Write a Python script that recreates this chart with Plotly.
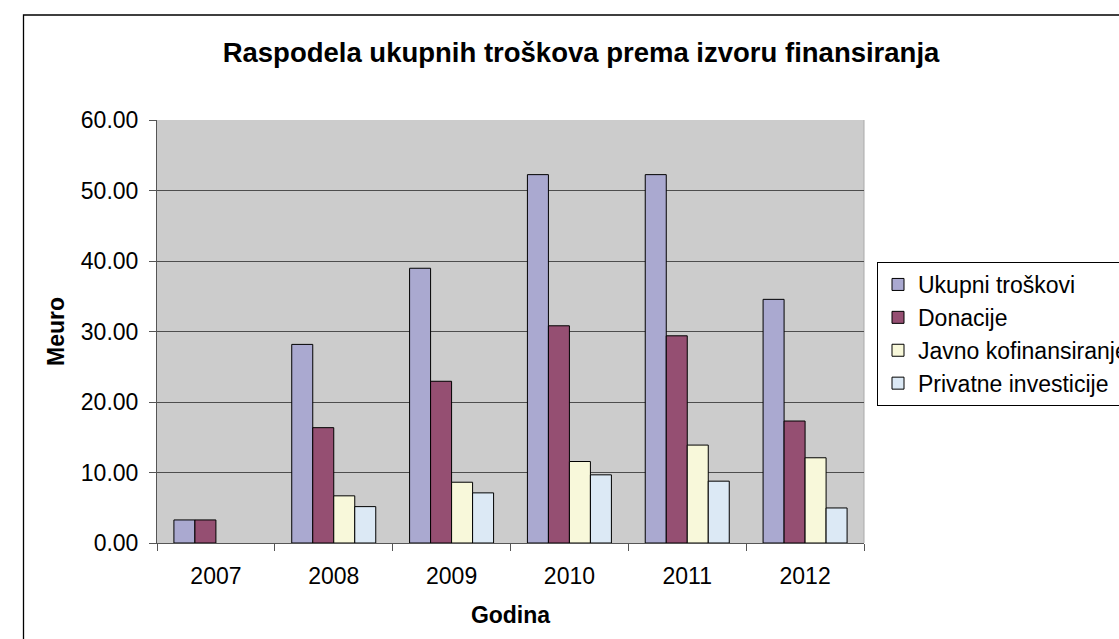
import plotly.graph_objects as go

years = ["2007", "2008", "2009", "2010", "2011", "2012"]
ukupni = [3.27, 28.17, 38.97, 52.25, 52.25, 34.56]
donacije = [3.27, 16.36, 22.94, 30.81, 29.39, 17.30]
javno = [None, 6.69, 8.62, 11.56, 13.89, 12.09]
privatne = [None, 5.16, 7.11, 9.67, 8.77, 4.97]

series_names = ["Ukupni troškovi", "Donacije", "Javno kofinansiranje", "Privatne investicije"]
series_colors = ["#AAA9D0", "#954F72", "#F8F8DA", "#DCE9F5"]
series_values = [ukupni, donacije, javno, privatne]
y_ticks = [0, 10, 20, 30, 40, 50, 60]

FONT = "Liberation Sans, Arial, sans-serif"

fig = go.Figure()
for name, color, vals in zip(series_names, series_colors, series_values):
    fig.add_trace(go.Bar(
        x=years, y=vals, name=name,
        marker=dict(color=color, line=dict(color="#000000", width=1)),
    ))

W, H = 1119, 639
L, R, T, B = 157, 255, 120, 96
pw, ph = W - L - R, H - T - B

def px_x(x):
    return (x - L) / pw

def px_y(y):
    return (H - B - y) / ph

fig.update_layout(
    width=W, height=H,
    margin=dict(l=L, r=R, t=T, b=B, autoexpand=False),
    paper_bgcolor="white",
    plot_bgcolor="#CCCCCC",
    font=dict(family=FONT, size=23, color="#000000"),
    barmode="group",
    bargap=0.287,
    bargroupgap=0,
    showlegend=True,
    legend=dict(
        x=px_x(877), y=px_y(262), xanchor="left", yanchor="top",
        xref="paper", yref="paper",
        bgcolor="white", bordercolor="#000000", borderwidth=1,
        font=dict(family=FONT, size=23, color="#000000"),
        traceorder="normal",
        itemwidth=30,
        tracegroupgap=0,
    ),
    xaxis=dict(
        type="category",
        tickson="boundaries",
        ticks="outside", ticklen=7, tickcolor="#555555", tickwidth=1,
        showline=True, linecolor="#555555", linewidth=1,
        showgrid=False,
        tickfont=dict(family=FONT, size=23),
        ticklabelstandoff=12,
        title=dict(text="<b>Godina</b>", font=dict(family=FONT, size=23), standoff=19),
        fixedrange=True,
    ),
    yaxis=dict(
        range=[0, 60],
        tickvals=y_ticks,
        tickformat=".2f",
        ticks="outside", ticklen=7, tickcolor="#555555", tickwidth=1,
        showline=True, linecolor="#555555", linewidth=1,
        showgrid=True, gridcolor="#4d4d4d", gridwidth=1,
        zeroline=False,
        tickfont=dict(family=FONT, size=23),
        ticklabelstandoff=6,
        title=dict(text="<b>Meuro</b>", font=dict(family=FONT, size=23), standoff=9),
        fixedrange=True,
    ),
    title=dict(
        text="<b>Raspodela ukupnih troškova prema izvoru finansiranja</b>",
        font=dict(family=FONT, size=27.5, color="#000000"),
        x=581 / W, xanchor="center", xref="container",
        y=1 - 52 / H, yanchor="middle", yref="container",
    ),
    shapes=[
        dict(type="rect", xref="paper", yref="paper",
             x0=px_x(23.5), y0=px_y(15), x1=px_x(1130), y1=px_y(650),
             line=dict(color="#000000", width=1.3), fillcolor="rgba(0,0,0,0)", layer="above"),
        dict(type="line", xref="paper", yref="paper",
             x0=1, y0=0, x1=1, y1=1,
             line=dict(color="#AAAAAA", width=1), layer="below"),
    ],
)

fig.write_html("out.html", config={"displayModeBar": False})
